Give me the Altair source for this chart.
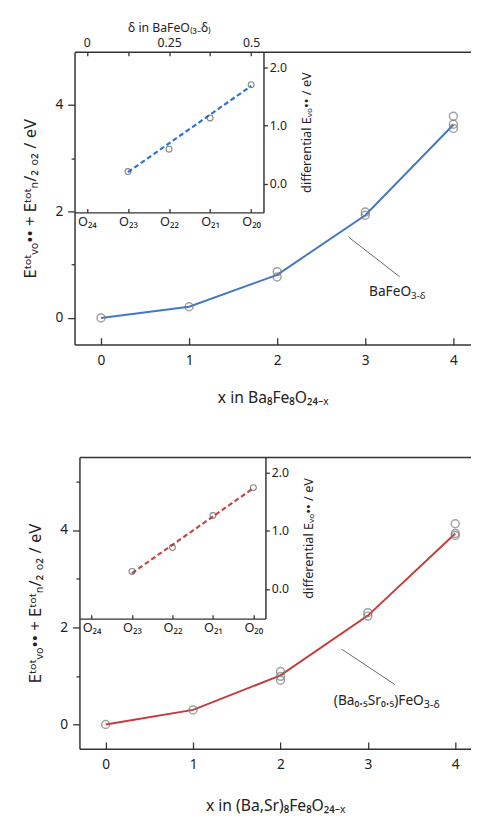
import json
import altair as alt
import pandas as pd

FONT = "Noto Sans"

# ---------------- data ----------------
x_ticks = [0, 1, 2, 3, 4]
inset_labels = ["O₂₄", "O₂₃", "O₂₂", "O₂₁", "O₂₀"]
delta_label_vals = [0, 0.25, 0.5]
delta_tick_vals = [0, 0.125, 0.25, 0.375, 0.5]
inset_y_vals = [0, 1, 2]

# top panel: BaFeO3-d
top_pts_x = [0, 1, 2, 2, 3, 3, 4, 4, 4]
top_pts_y = [0, 0.21, 0.87, 0.77, 1.99, 1.93, 3.79, 3.64, 3.56]
top_line_x = [0, 1, 2, 3, 4]
top_line_y = [0, 0.21, 0.81, 1.93, 3.63]
top_ins_x = [1, 2, 3, 4]
top_ins_y = [0.21, 0.595, 1.13, 1.70]
top_fit_x = [1, 4]
top_fit_y = [0.20, 1.68]
top_ann = {"x": [2.81], "y": [1.52], "x2": [3.39], "y2": [0.775]}
top_lab = {"x": [3.52], "y": [0.48], "main": ["BaFeO"], "sub": ["3-δ"]}

# bottom panel: (Ba,Sr)FeO3-d
bot_pts_x = [0, 1, 2, 2, 2, 3, 3, 4, 4, 4]
bot_pts_y = [0, 0.30, 1.09, 0.99, 0.91, 2.30, 2.23, 4.13, 3.93, 3.89]
bot_line_x = [0, 1, 2, 3, 4]
bot_line_y = [0, 0.30, 1.01, 2.24, 3.93]
bot_ins_x = [1, 2, 3, 4]
bot_ins_y = [0.30, 0.71, 1.26, 1.74]
bot_fit_x = [1, 4]
bot_fit_y = [0.27, 1.73]
bot_ann = {"x": [2.70], "y": [1.55], "x2": [3.31], "y2": [0.82]}
bot_lab = {"x": [3.64], "y": [0.48], "main": ["(Ba₀.₅Sr₀.₅)FeO"], "sub": ["3-δ"]}

Y_TITLE = "Eᵗᵒᵗᵥₒ•• + Eᵗᵒᵗₙ/₂ ₒ₂ / eV"
INSET_Y_TITLE = "differential Eᵥₒ•• / eV"
DELTA_TITLE = "δ in BaFeO₍₃₋δ₎"

LABEL_EXPR_INSET = json.dumps(inset_labels, ensure_ascii=False) + "[datum.value]"


def panel(W, H, x0, xdom, ydom, yvals, line_x, line_y, pts_x, pts_y, color,
          iw, ih, iydom, ins_x, ins_y, fit_x, fit_y, fit_color,
          ann, lab, xtitle, delta_axis, ytitle_pad, xtitle_pad, sub_size):
    df_line = pd.DataFrame({"x": line_x, "y": line_y})
    df_pts = pd.DataFrame({"x": pts_x, "y": pts_y})
    df_ins = pd.DataFrame({"x": ins_x, "y": ins_y})
    df_fit = pd.DataFrame({"x": fit_x, "y": fit_y})
    df_ann = pd.DataFrame(ann)
    df_lab = pd.DataFrame(lab)
    df_ticks = pd.DataFrame({"x": x_ticks, "y": [0] * len(x_ticks)})

    xs = alt.Scale(domain=xdom, range=[x0, W], nice=False, zero=False)
    ys = alt.Scale(domain=ydom, nice=False, zero=False)
    ixs = alt.Scale(domain=[-0.3, 4.3], range=[x0, x0 + iw], nice=False, zero=False)
    iys = alt.Scale(domain=iydom, range=[ih, 0], nice=False, zero=False)

    def yn():
        return alt.Y("y:Q", scale=ys, axis=None)

    main_line = alt.Chart(df_line).mark_line(color=color, strokeWidth=2).encode(
        x=alt.X("x:Q", scale=xs, axis=alt.Axis(
            orient="bottom", values=x_ticks, ticks=False, tickSize=0,
            labelPadding=9, labelFontSize=14, title=xtitle, titleFontSize=16,
            titlePadding=xtitle_pad, domain=True, labelFlush=False)),
        y=alt.Y("y:Q", scale=ys, axis=alt.Axis(
            orient="left", offset=-x0, values=yvals,
            labelExpr="datum.value % 2 == 0 ? datum.label : ''",
            tickSize={"condition": {"test": "datum.value % 2 != 0", "value": 3.5}, "value": 7},
            labelPadding=5, labelFontSize=14, title=Y_TITLE, titleFontSize=17,
            titlePadding=ytitle_pad, domain=True, labelFlush=False)),
    )
    main_pts = alt.Chart(df_pts).mark_point(
        shape="circle", filled=False, size=66, stroke="#7a7a7a", strokeWidth=1.5
    ).encode(x=alt.X("x:Q", scale=xs, axis=None), y=yn())

    ann_rule = alt.Chart(df_ann).mark_rule(color="#555555", strokeWidth=0.9).encode(
        x=alt.X("x:Q", scale=xs, axis=None), y=yn(), x2="x2:Q", y2="y2:Q")
    lab_main = alt.Chart(df_lab).mark_text(
        align="right", baseline="middle", font=FONT, fontSize=14, color="#222222"
    ).encode(x=alt.X("x:Q", scale=xs, axis=None), y=yn(), text="main:N")
    lab_sub = alt.Chart(df_lab).mark_text(
        align="left", baseline="middle", dy=4, font=FONT, fontSize=sub_size, color="#222222"
    ).encode(x=alt.X("x:Q", scale=xs, axis=None), y=yn(), text="sub:N")

    top_border = alt.Chart(df_ticks).mark_point(opacity=0).encode(
        x=alt.X("x:Q", scale=xs, axis=alt.Axis(
            orient="top", domain=True, ticks=False, labels=False, title=None, offset=0)),
        y=yn())
    inward_ticks = alt.Chart(df_ticks).mark_point(opacity=0).encode(
        x=alt.X("x:Q", scale=xs, axis=alt.Axis(
            orient="top", domain=False, ticks=True, tickSize=7, labels=False,
            title=None, offset=-H, values=x_ticks)),
        y=yn())

    fit_line = alt.Chart(df_fit).mark_line(
        color=fit_color, strokeWidth=2.2, strokeDash=[5, 3]
    ).encode(
        x=alt.X("x:Q", scale=ixs, axis=alt.Axis(
            orient="bottom", offset=-(H - ih), values=x_ticks, labelExpr=LABEL_EXPR_INSET,
            ticks=False, tickSize=0, labelPadding=3, labelFontSize=13, title=None,
            domain=True, labelFlush=False)),
        y=alt.Y("y:Q", scale=iys, axis=alt.Axis(
            orient="right", offset=-(W - x0 - iw), values=inset_y_vals, format=".1f",
            tickSize=4, labelPadding=2, labelFontSize=12.5, title=INSET_Y_TITLE,
            titleFontSize=13, titleAngle=270, titleX=44, titleY=ih / 2,
            titleAlign="center", titleBaseline="middle", domain=True,
            labelFlush=False)),
    )
    ins_pts = alt.Chart(df_ins).mark_point(
        shape="circle", filled=False, size=36, stroke="#555555", strokeWidth=1.1
    ).encode(x=alt.X("x:Q", scale=ixs, axis=None), y=alt.Y("y:Q", scale=iys, axis=None))
    ins_ticks = alt.Chart(df_ticks).mark_point(opacity=0).encode(
        x=alt.X("x:Q", scale=ixs, axis=alt.Axis(
            orient="top", domain=False, ticks=True, tickSize=4, labels=False,
            title=None, offset=-ih, values=x_ticks)),
        y=alt.Y("y:Q", scale=iys, axis=None))

    layers = [main_line, main_pts, ann_rule, lab_main, lab_sub, top_border,
              inward_ticks, fit_line, ins_pts, ins_ticks]

    if delta_axis:
        dscale = alt.Scale(domain=[-0.3 / 8, 4.3 / 8], range=[x0, x0 + iw], nice=False, zero=False)
        df_d = pd.DataFrame({"d": delta_tick_vals, "y": [0] * len(delta_tick_vals)})
        d_lab = alt.Chart(df_d).mark_point(opacity=0).encode(
            x=alt.X("d:Q", scale=dscale, axis=alt.Axis(
                orient="top", values=delta_label_vals, format=".2~f", domain=False,
                ticks=False, tickSize=0, labelPadding=2, labelFontSize=12.5,
                title=DELTA_TITLE, titleFontSize=12.5, titlePadding=3,
                labelFlush=False)),
            y=alt.Y("y:Q", scale=iys, axis=None))
        d_ticks = alt.Chart(df_d).mark_point(opacity=0).encode(
            x=alt.X("d:Q", scale=dscale, axis=alt.Axis(
                orient="bottom", values=delta_tick_vals, domain=False, ticks=True,
                tickSize=4, labels=False, title=None, offset=-H)),
            y=alt.Y("y:Q", scale=iys, axis=None))
        layers += [d_lab, d_ticks]

    return alt.layer(*layers).resolve_scale(x="independent", y="independent").properties(
        width=W, height=H)


top = panel(405, 299, 0, [-0.3, 4.2], [-0.5, 5.0], [0, 1, 2, 3, 4],
            top_line_x, top_line_y, top_pts_x, top_pts_y, "#4477c4",
            193, 164, [-0.49, 2.264], top_ins_x, top_ins_y, top_fit_x, top_fit_y, "#2b72d6",
            top_ann, top_lab, "x in Ba₈Fe₈O₂₄₋ₓ", True, 16, 23, 10)

bottom = panel(405, 298, 5, [-0.3, 4.18], [-0.5, 5.5], [0, 1, 2, 3, 4, 5],
               bot_line_x, bot_line_y, bot_pts_x, bot_pts_y, "#c43c3a",
               190, 165, [-0.51, 2.264], bot_ins_x, bot_ins_y, bot_fit_x, bot_fit_y, "#c94444",
               bot_ann, bot_lab, "x in (Ba,Sr)₈Fe₈O₂₄₋ₓ", False, 16, 27, 11)

chart = alt.vconcat(top, bottom, spacing=53).properties(
    padding={"left": 13, "top": 5, "right": 0, "bottom": 2}
).configure_view(stroke=None).configure_axis(
    labelFont=FONT, titleFont=FONT, labelColor="#222222", titleColor="#222222",
    domainColor="#333333", tickColor="#333333", domainWidth=1.5, tickWidth=1.3,
    titleFontWeight="normal", grid=False
)

chart.save("out.html", embed_options={"renderer": "svg", "actions": False})
